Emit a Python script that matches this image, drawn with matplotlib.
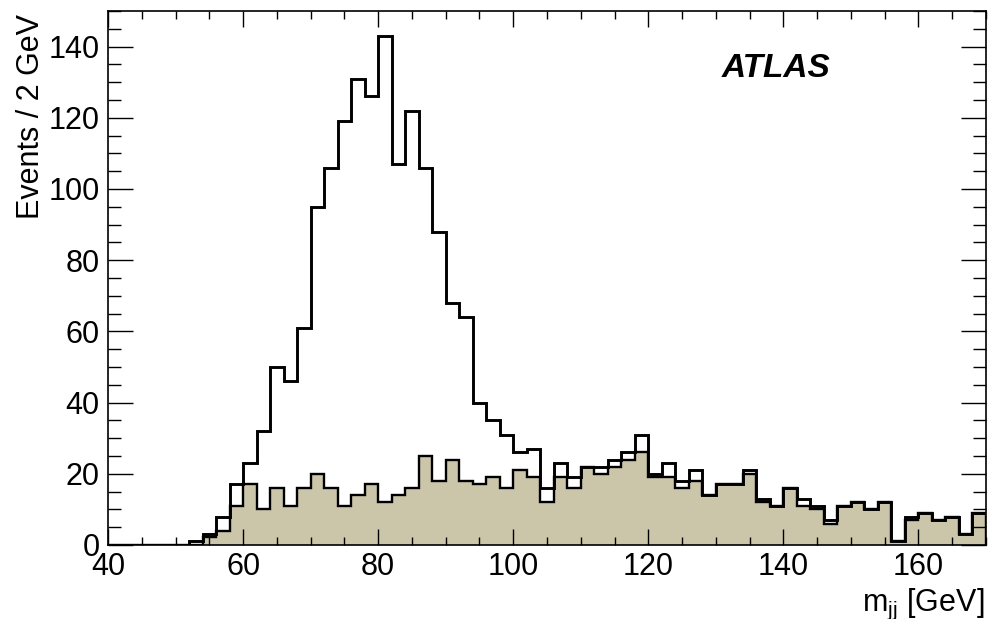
import numpy as np
import matplotlib
matplotlib.use('Agg')
import matplotlib.pyplot as plt
from matplotlib.ticker import MultipleLocator

plt.rcParams['font.family'] = ['Liberation Sans', 'DejaVu Sans']
plt.rcParams['mathtext.fontset'] = 'custom'
plt.rcParams['mathtext.rm'] = 'Liberation Sans'

# m_jj histogram, 2 GeV bins from 40 to 170 GeV
bin_lo, bin_hi, bin_w = 40, 170, 2

# total (signal + background), black outline
total = [0, 0, 0, 0, 0, 0, 1, 3, 8, 17,
         23, 32, 50, 46, 61, 95, 106, 119, 131, 126,
         143, 107, 122, 106, 88, 68, 64, 40, 35, 31,
         26, 27, 16, 23, 19, 22, 22, 24, 26, 31,
         20, 23, 18, 21, 14, 17, 17, 21, 13, 11,
         16, 13, 11, 7, 11, 12, 10, 12, 1, 8,
         9, 7, 8, 3, 9]

# background only, filled
background = [0, 0, 0, 0, 0, 0, 0, 2.3, 4, 11,
              17, 10, 16, 11, 16, 20, 16, 11, 14, 17,
              12, 14, 16, 25, 18, 24, 18, 17, 19, 16,
              21, 19, 12, 19, 16, 22, 20, 22, 24, 26,
              19, 19, 16, 18, 14, 17, 17, 20, 12, 11,
              16, 11, 10, 6, 11, 12, 10, 12, 1, 7,
              9, 7, 8, 3, 9]

edges = np.arange(bin_lo, bin_hi + bin_w, bin_w)

fig = plt.figure(figsize=(9.9, 6.19), dpi=100)
ax = fig.add_axes([108 / 990, 1 - 545 / 619, 878 / 990, 534 / 619])

tan = '#cbc5a9'
ax.stairs(background, edges, fill=True, color=tan, linewidth=0)
ax.stairs(background, edges, color='black', linewidth=1.7)
ax.stairs(total, edges, color='black', linewidth=2.1)

ax.set_xlim(bin_lo, bin_hi)
ax.set_ylim(0, 150)

ax.xaxis.set_major_locator(MultipleLocator(20))
ax.xaxis.set_minor_locator(MultipleLocator(5))
ax.yaxis.set_major_locator(MultipleLocator(20))
ax.yaxis.set_minor_locator(MultipleLocator(5))

ax.tick_params(axis='both', which='both', direction='in', top=True, right=True,
               labelsize=22, width=1.0, color='black')
ax.tick_params(axis='x', which='major', length=11.5, pad=5)
ax.tick_params(axis='x', which='minor', length=6)
ax.tick_params(axis='y', which='major', length=18, pad=6)
ax.tick_params(axis='y', which='minor', length=9.5)
for s in ax.spines.values():
    s.set_linewidth(1.2)

fig.text(31 / 990, 1 - 14 / 619, 'Events / 2 GeV', rotation=90,
         ha='center', va='top', fontsize=22)
fig.text(984 / 990, 1 - 611 / 619, r'm$_{\mathrm{jj}}$ [GeV]',
         ha='right', va='baseline', fontsize=22)
fig.text(722 / 990, 1 - 77 / 619, 'ATLAS', fontsize=24,
         fontweight='bold', fontstyle='italic', va='baseline')

fig.savefig('out.png', dpi=100)
